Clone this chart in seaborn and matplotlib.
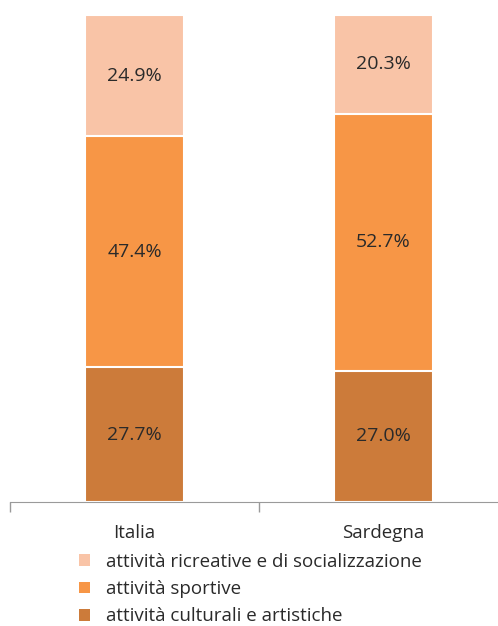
import pandas as pd
import seaborn as sns
import matplotlib.pyplot as plt
from matplotlib.patches import Patch

categories = ["Italia", "Sardegna"]
culturali = [27.7, 27.0]
sportive = [47.4, 52.7]
ricreative = [24.9, 20.3]

series_names = ["attività culturali e artistiche", "attività sportive",
                "attività ricreative e di socializzazione"]
colors = ["#CC7B3A", "#F79646", "#F9C4A7"]

sns.set_style("white")
plt.rcParams["font.family"] = ["Open Sans", "DejaVu Sans"]

df = pd.DataFrame({"cat": categories, "c": culturali, "s": sportive, "r": ricreative})
df["c_top"] = df["c"]
df["s_top"] = df["c"] + df["s"]
df["r_top"] = df["c"] + df["s"] + df["r"]

fig = plt.figure(figsize=(4.98, 6.26), dpi=100)
ax = fig.add_axes([0.02, 0.198, 1.0, 0.778])

# draw cumulative totals from the top down so each layer covers the one below
for col, color in zip(["r_top", "s_top", "c_top"], colors[::-1]):
    sns.barplot(data=df, x="cat", y=col, color=color, width=0.4,
                edgecolor="white", linewidth=1.5, saturation=1, ax=ax)

for i in range(len(categories)):
    vals = [df["c"][i], df["s"][i], df["r"][i]]
    base = 0
    for v in vals:
        ax.text(i, base + v / 2, f"{v:.1f}%", ha="center", va="center",
                fontsize=14, color="#2a2a2a")
        base += v

ax.set_xlim(-0.5, 1.5)
ax.set_ylim(0, 100)
ax.set_xlabel("")
ax.set_ylabel("")
ax.set_yticks([])
for side in ["top", "right", "left"]:
    ax.spines[side].set_visible(False)
ax.spines["bottom"].set_color("#9a9a9a")
ax.tick_params(axis="x", which="major", length=0, labelsize=13.5, pad=16,
               labelcolor="#2a2a2a")
ax.set_xticks([-0.5, 0.5, 1.5], minor=True)
ax.tick_params(axis="x", which="minor", bottom=True, length=7, width=1,
               color="#9a9a9a", direction="out")

handles = [Patch(facecolor=c, edgecolor="none") for c in colors[::-1]]
fig.legend(handles, series_names[::-1], loc="upper left",
           bbox_to_anchor=(0.14, 0.132), frameon=False, fontsize=13.5,
           handlelength=0.6, handleheight=0.6, handletextpad=0.85,
           labelspacing=0.5, borderpad=0, labelcolor="#2a2a2a")

fig.savefig("out.png", dpi=100)
